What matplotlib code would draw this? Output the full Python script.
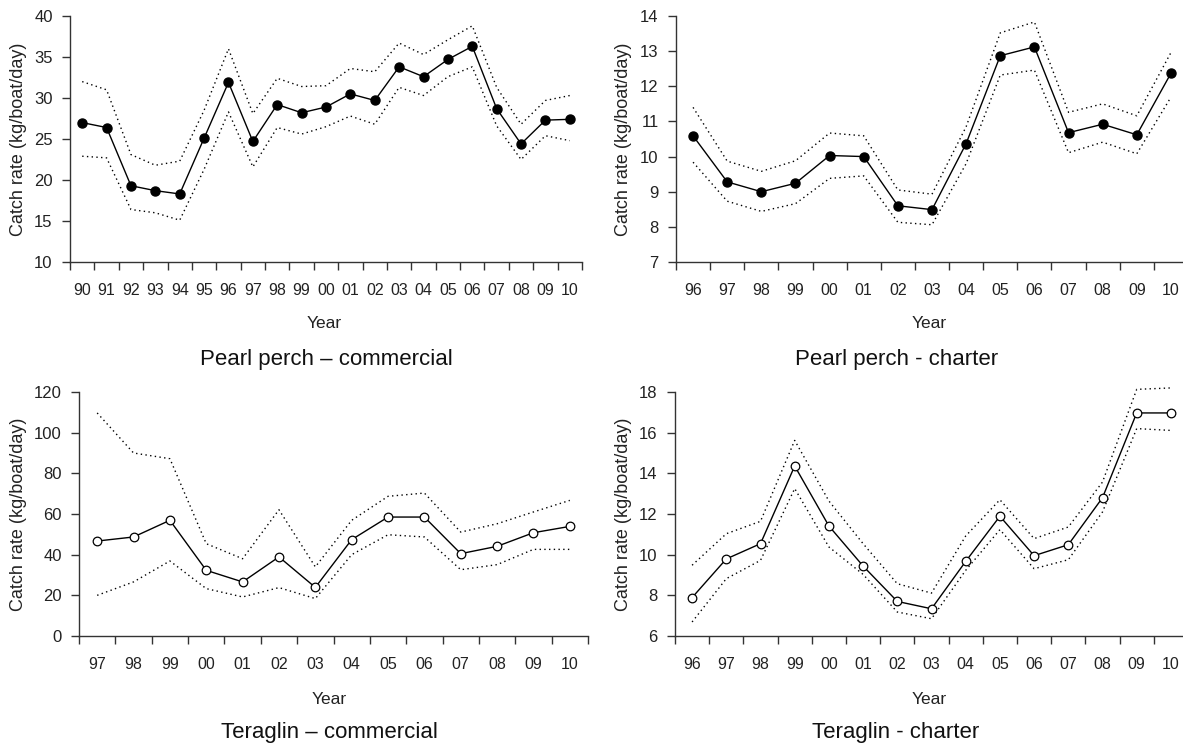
import numpy as np
import matplotlib
matplotlib.use("Agg")
import matplotlib.pyplot as plt

plt.rcParams['font.family'] = ['Liberation Sans', 'DejaVu Sans']

# Pearl perch - commercial (1990-2010)
pp_com_years = ['90', '91', '92', '93', '94', '95', '96', '97', '98', '99', '00',
                '01', '02', '03', '04', '05', '06', '07', '08', '09', '10']
pp_com_rate = [27.0, 26.4, 19.3, 18.7, 18.3, 25.1, 31.9, 24.7, 29.2, 28.2, 28.9,
               30.5, 29.7, 33.8, 32.6, 34.7, 36.3, 28.7, 24.4, 27.3, 27.4]
pp_com_upper = [32.0, 31.0, 23.1, 21.8, 22.3, 28.5, 36.0, 28.1, 32.4, 31.4, 31.5,
                33.6, 33.2, 36.7, 35.3, 37.1, 38.8, 31.3, 26.8, 29.7, 30.3]
pp_com_lower = [22.9, 22.7, 16.4, 16.0, 15.1, 21.3, 28.3, 21.6, 26.4, 25.6, 26.5,
                27.8, 26.8, 31.3, 30.3, 32.6, 33.8, 26.6, 22.5, 25.4, 24.8]

# Pearl perch - charter (1996-2010)
pp_cha_years = ['96', '97', '98', '99', '00', '01', '02', '03', '04', '05',
                '06', '07', '08', '09', '10']
pp_cha_rate = [10.59, 9.28, 9.0, 9.24, 10.03, 10.0, 8.6, 8.49, 10.37, 12.87,
               13.12, 10.68, 10.92, 10.62, 12.37]
pp_cha_upper = [11.4, 9.87, 9.58, 9.88, 10.67, 10.59, 9.05, 8.93, 10.85, 13.52,
                13.83, 11.26, 11.5, 11.16, 12.96]
pp_cha_lower = [9.84, 8.73, 8.44, 8.66, 9.38, 9.45, 8.13, 8.06, 9.8, 12.32,
                12.46, 10.11, 10.41, 10.08, 11.69]

# Teraglin - commercial (1997-2010)
te_com_years = ['97', '98', '99', '00', '01', '02', '03', '04', '05', '06',
                '07', '08', '09', '10']
te_com_rate = [46.7, 48.7, 56.9, 32.3, 26.6, 38.9, 23.9, 47.4, 58.5, 58.5,
               40.5, 44.1, 50.8, 53.9]
te_com_upper = [109.7, 90.0, 87.2, 45.4, 38.0, 62.1, 34.0, 56.9, 68.7, 70.3,
                51.1, 55.2, 61.0, 66.7]
te_com_lower = [20.0, 26.6, 36.9, 23.3, 19.2, 23.8, 18.4, 40.0, 49.8, 48.7,
                32.6, 35.1, 42.6, 42.6]

# Teraglin - charter (1996-2010)
te_cha_years = ['96', '97', '98', '99', '00', '01', '02', '03', '04', '05',
                '06', '07', '08', '09', '10']
te_cha_rate = [7.89, 9.79, 10.54, 14.36, 11.41, 9.44, 7.70, 7.34, 9.67, 11.89,
               9.95, 10.49, 12.80, 16.97, 16.97]
te_cha_upper = [9.48, 11.03, 11.64, 15.62, 12.64, 10.54, 8.57, 8.11, 10.92, 12.7,
                10.79, 11.36, 13.57, 18.13, 18.2]
te_cha_lower = [6.69, 8.82, 9.72, 13.25, 10.38, 9.03, 7.18, 6.85, 9.23, 11.23,
                9.31, 9.75, 12.1, 16.2, 16.11]

W, H = 1183, 744
fig = plt.figure(figsize=(W / 100, H / 100), dpi=100)


def px_axes(left, top, right, bottom):
    return fig.add_axes([left / W, 1 - bottom / H, (right - left) / W, (bottom - top) / H])


def draw_panel(ax, years, rate, upper, lower, ylim, ystep, filled):
    x = np.arange(len(years))
    dot = (0, (1, 2.4))
    # confidence bounds may poke just above the top of the axis
    ax.plot(x, upper, color='black', lw=1.0, ls=dot, clip_on=False)
    ax.plot(x, lower, color='black', lw=1.0, ls=dot, clip_on=False)
    if filled:
        ax.plot(x, rate, color='black', lw=1.0, marker='o', ms=6.5,
                mfc='black', mec='black')
    else:
        ax.plot(x, rate, color='black', lw=1.0, marker='o', ms=6.2,
                mfc='white', mec='black', mew=0.9)
    ax.set_xlim(-0.5, len(years) - 0.5)
    ax.set_ylim(*ylim)
    ax.set_yticks(np.arange(ylim[0], ylim[1] + ystep / 2, ystep))
    ax.set_xticks(x)
    ax.set_xticklabels(years)
    ax.set_xticks(np.arange(len(years) + 1) - 0.5, minor=True)
    ax.tick_params(axis='x', which='major', length=0, pad=15, labelsize=11.5,
                   colors='#222222')
    ax.tick_params(axis='x', which='minor', length=5.5, width=1.0, color='#333333')
    ax.tick_params(axis='y', length=5.5, width=1.0, pad=7, labelsize=12,
                   color='#333333', labelcolor='#222222')
    for side in ('top', 'right'):
        ax.spines[side].set_visible(False)
    for side in ('left', 'bottom'):
        ax.spines[side].set_color('#333333')
        ax.spines[side].set_linewidth(1.0)
    ax.patch.set_alpha(0)


ax1 = px_axes(70, 16, 582, 262)
draw_panel(ax1, pp_com_years, pp_com_rate, pp_com_upper, pp_com_lower, (10, 40), 5, True)
ax2 = px_axes(676, 16, 1188, 262)
draw_panel(ax2, pp_cha_years, pp_cha_rate, pp_cha_upper, pp_cha_lower, (7, 14), 1, True)
ax3 = px_axes(79, 392, 588, 636)
draw_panel(ax3, te_com_years, te_com_rate, te_com_upper, te_com_lower, (0, 120), 20, False)
ax4 = px_axes(675, 392, 1188, 636)
draw_panel(ax4, te_cha_years, te_cha_rate, te_cha_upper, te_cha_lower, (6, 18), 2, False)

ylab = 'Catch rate (kg/boat/day)'
for xp, yc in [(19, 139), (623, 139), (19, 514), (624, 514)]:
    fig.text(xp / W, 1 - yc / H, ylab, rotation=90, ha='center', va='center',
             fontsize=13, color='#222222')

for xp, yb in [(324, 328), (929, 328), (329, 704), (929, 704)]:
    fig.text(xp / W, 1 - yb / H, 'Year', ha='center', va='baseline',
             fontsize=12.5, color='#222222')

titles = [('Pearl perch – commercial', 326, 365), ('Pearl perch - charter', 897, 365),
          ('Teraglin – commercial', 329, 738), ('Teraglin - charter', 896, 738)]
for label, xp, yb in titles:
    fig.text(xp / W, 1 - yb / H, label, ha='center', va='baseline',
             fontsize=16, color='#111111')

fig.savefig('out.png', dpi=100)
